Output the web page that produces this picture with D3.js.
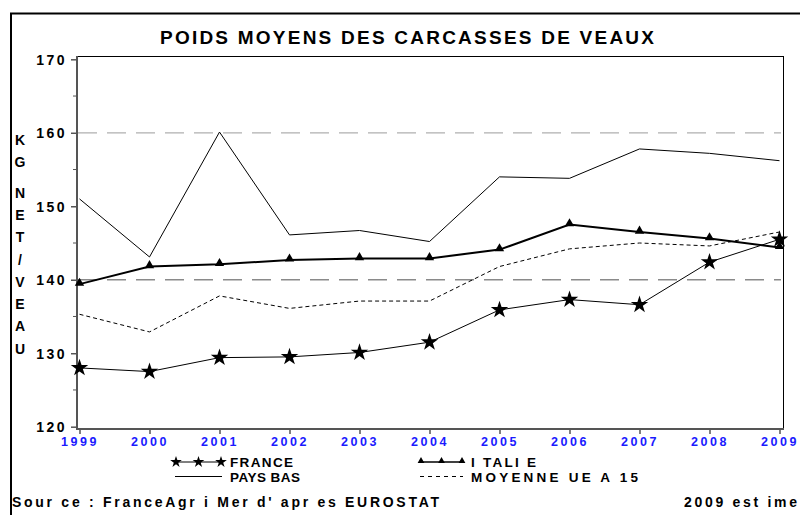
<!DOCTYPE html>
<html>
<head>
<meta charset="utf-8">
<script src="https://cdnjs.cloudflare.com/ajax/libs/d3/7.8.5/d3.min.js"></script>
<style>
body{margin:0;background:#fff;}
svg text{font-family:"Liberation Sans",Arial,sans-serif;font-weight:bold;}
</style>
</head>
<body>
<svg id="chart" width="800" height="515"></svg>
<script>
// data
var years=[1999,2000,2001,2002,2003,2004,2005,2006,2007,2008,2009];
var france=[128.0,127.5,129.4,129.5,130.1,131.5,135.9,137.3,136.6,142.4,145.5];
var italie=[139.4,141.8,142.1,142.7,142.9,142.9,144.1,147.5,146.5,145.6,144.4];
var paysBas=[151.0,143.1,160.1,146.1,146.7,145.2,154.0,153.8,157.8,157.2,156.2];
var moyenne=[135.3,132.9,137.8,136.1,137.1,137.1,141.8,144.2,145.0,144.6,146.5];
var yTicks=[120,130,140,150,160,170];
var yMinor=[125,135,145,155,165];
var refLines=[160,140];
var yLabel=["K","G","N","E","T","/","V","E","A","U"];

var svg=d3.select("#chart");

var x=d3.scaleLinear().domain([1999,2009]).range([79.5,779.5]);
var y=d3.scaleLinear().domain([120,170]).range([426.7,59.3]);

// outer frame
svg.append("line").attr("x1",10).attr("x2",800).attr("y1",13.5).attr("y2",13.5)
	.attr("stroke","#000").attr("stroke-width",2);
svg.append("line").attr("x1",11).attr("x2",11).attr("y1",13).attr("y2",515)
	.attr("stroke","#000").attr("stroke-width",2);

// title
svg.append("text").attr("x",160).attr("y",43.5)
	.attr("textLength",494).attr("lengthAdjust","spacing")
	.style("font-size","19px")
	.text("POIDS MOYENS DES CARCASSES DE VEAUX");

// plot frame top / right
svg.append("line").attr("x1",77).attr("x2",783.5).attr("y1",56.5).attr("y2",56.5).attr("stroke","#000");
svg.append("line").attr("x1",783.5).attr("x2",783.5).attr("y1",56).attr("y2",429).attr("stroke","#000");

// reference lines
svg.selectAll(".ref").data(refLines).enter().append("line")
	.attr("class","ref")
	.attr("x1",78).attr("x2",781)
	.attr("y1",function(d){return y(d);}).attr("y2",function(d){return y(d);})
	.attr("stroke",function(d,i){return i==0?"#b0b0b0":"#8a8a8a";})
	.attr("stroke-width",1.3)
	.attr("stroke-dasharray","19,10");

// y axis
var yAxis=d3.axisLeft(y).tickValues(yTicks).tickSize(6).tickFormat(d3.format("d"));
var gy=svg.append("g").attr("transform","translate(77,0)").call(yAxis);
gy.select(".domain").remove();
gy.selectAll(".tick line").attr("stroke","#555").attr("stroke-width",1.5);
gy.selectAll(".tick text").attr("x",-10).attr("dy","0.36em")
	.attr("fill","#000").style("font-size","14px").style("letter-spacing","2.5px")
	.style("font-family","Liberation Sans, Arial, sans-serif");
svg.selectAll(".minor").data(yMinor).enter().append("line")
	.attr("x1",73).attr("x2",77)
	.attr("y1",function(d){return y(d);}).attr("y2",function(d){return y(d);})
	.attr("stroke","#555");
svg.append("line").attr("x1",77).attr("x2",77).attr("y1",56).attr("y2",430)
	.attr("stroke","#555").attr("stroke-width",2);

// x axis
var xAxis=d3.axisBottom(x).tickValues(years).tickSize(5).tickFormat(d3.format("d"));
var gx=svg.append("g").attr("transform","translate(0,429)").call(xAxis);
gx.select(".domain").remove();
gx.selectAll(".tick line").attr("stroke","#555").attr("stroke-width",1.5);
gx.selectAll(".tick text").attr("y",8).attr("dy","0.71em")
	.attr("fill","#1a1aff").style("font-size","12.5px").style("letter-spacing","2.5px")
	.style("font-family","Liberation Sans, Arial, sans-serif");
svg.append("line").attr("x1",76).attr("x2",784).attr("y1",429).attr("y2",429)
	.attr("stroke","#555").attr("stroke-width",2);

// y label stacked (gap between "KG" and "NET/VEAU")
svg.selectAll(".ylab").data(yLabel).enter().append("text")
	.attr("class","ylab")
	.attr("x",20).attr("text-anchor","middle")
	.attr("y",function(d,i){return 145+i*22.3+(i>1?8:0);})
	.style("font-size","14px")
	.text(function(d){return d;});

// series
var line=d3.line().x(function(d,i){return x(years[i]);}).y(function(d){return y(d);});
svg.append("path").datum(paysBas).attr("d",line).attr("fill","none").attr("stroke","#000").attr("stroke-width",1);
svg.append("path").datum(moyenne).attr("d",line).attr("fill","none").attr("stroke","#000").attr("stroke-width",1).attr("stroke-dasharray","4,3");
svg.append("path").datum(france).attr("d",line).attr("fill","none").attr("stroke","#000").attr("stroke-width",1);
svg.append("path").datum(italie).attr("d",line).attr("fill","none").attr("stroke","#000").attr("stroke-width",2);

var star=d3.symbol().type(d3.symbolStar).size(95);
var tri=d3.symbol().type(d3.symbolTriangle).size(38);
svg.selectAll(".star").data(france).enter().append("path")
	.attr("d",star)
	.attr("transform",function(d,i){return "translate("+x(years[i])+","+y(d)+")";})
	.attr("fill","#000");
svg.selectAll(".tri").data(italie).enter().append("path")
	.attr("d",tri)
	.attr("transform",function(d,i){return "translate("+x(years[i])+","+(y(d)-1)+")";})
	.attr("fill","#000");

// legend
var lstar=d3.symbol().type(d3.symbolStar).size(42);
var ltri=d3.symbol().type(d3.symbolTriangle).size(20);
svg.append("line").attr("x1",175).attr("x2",222).attr("y1",462).attr("y2",462).attr("stroke","#000");
[176,198.5,221].forEach(function(px){
	svg.append("path").attr("d",lstar).attr("transform","translate("+px+",462)").attr("fill","#000");
});
svg.append("line").attr("x1",420).attr("x2",463).attr("y1",462).attr("y2",462).attr("stroke","#000").attr("stroke-width",1.5);
[421,441.5,462].forEach(function(px){
	svg.append("path").attr("d",ltri).attr("transform","translate("+px+",461)").attr("fill","#000");
});
svg.append("line").attr("x1",175).attr("x2",222).attr("y1",476.5).attr("y2",476.5).attr("stroke","#000");
svg.append("line").attr("x1",420).attr("x2",463).attr("y1",476.5).attr("y2",476.5).attr("stroke","#000").attr("stroke-dasharray","4,4");

function legText(tx,ty,len,s){
	svg.append("text").attr("x",tx).attr("y",ty)
		.attr("textLength",len).attr("lengthAdjust","spacing")
		.style("font-size","13.5px").text(s);
}
legText(230,467,63,"FRANCE");
legText(471,467,65,"I TALI E");
legText(230,482,70,"PAYS BAS");
legText(471,482,167,"MOYENNE UE A 15");

// source
svg.append("text").attr("x",12).attr("y",507)
	.attr("textLength",427).attr("lengthAdjust","spacing")
	.style("font-size","14px")
	.text("Sour ce : FranceAgr i Mer d' apr es EUROSTAT");
svg.append("text").attr("x",684).attr("y",507)
	.attr("textLength",113).attr("lengthAdjust","spacing")
	.style("font-size","14px")
	.text("2009 est ime");
</script>
</body>
</html>
